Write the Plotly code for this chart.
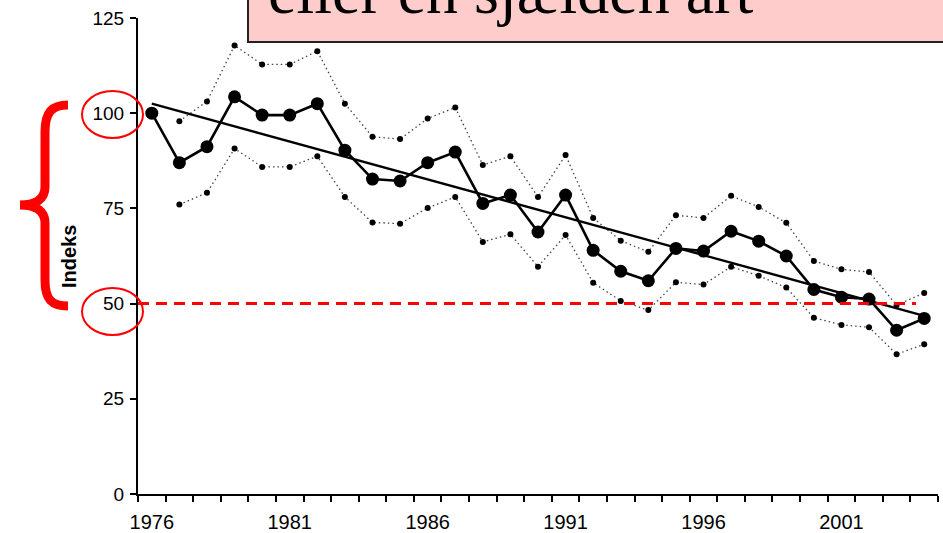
import plotly.graph_objects as go

# ---------------- data ----------------
years = list(range(1976, 2005))
index_values = [100.0, 87.0, 91.2, 104.3, 99.5, 99.5, 102.5, 90.3, 82.7, 82.2,
                87.0, 89.8, 76.3, 78.5, 68.8, 78.5, 64.0, 58.5, 56.0, 64.5,
                63.8, 69.0, 66.4, 62.5, 53.7, 51.7, 51.2, 43.0, 46.1]
ci_years = list(range(1977, 2005))
upper_ci = [97.9, 103.1, 117.8, 112.8, 112.8, 116.3, 102.5, 93.8, 93.2, 98.6,
            101.5, 86.4, 88.7, 78.0, 89.0, 72.5, 66.5, 63.6, 73.2, 72.5,
            78.3, 75.4, 71.2, 61.2, 59.0, 58.3, 49.6, 52.8]
lower_ci = [76.0, 79.1, 90.7, 85.9, 85.9, 88.7, 78.0, 71.3, 71.0, 75.1,
            78.0, 66.2, 68.2, 59.7, 68.0, 55.5, 50.7, 48.3, 55.6, 55.0,
            59.7, 57.3, 54.2, 46.3, 44.4, 43.8, 36.7, 39.3]
trend_years = [1976, 2004]
trend_values = [102.5, 46.8]
threshold = 50
threshold_end_year = 2003.7
x_tick_labels = [1976, 1981, 1986, 1991, 1996, 2001]
y_tick_labels = [0, 25, 50, 75, 100, 125]
title_text = "eller en sjælden art"
y_title = "Indeks"

# ---------------- layout helpers ----------------
W, H = 943, 533
L, R, T, B = 138, 5, 18, 39
PW, PH = W - L - R, H - T - B


def px(x):
    return (x - L) / PW


def py(y):
    return (H - B - y) / PH


def path_px(cmds):
    out = []
    for c in cmds:
        if isinstance(c, str):
            out.append(c)
        else:
            out.append(f"{px(c[0]):.5f},{py(c[1]):.5f}")
    return " ".join(out)


fig = go.Figure()

# confidence limits (dotted)
for vals in (upper_ci, lower_ci):
    fig.add_trace(go.Scatter(
        x=ci_years, y=vals, mode="lines+markers",
        line=dict(color="#444444", width=1.3, dash="1.5px,3px"),
        marker=dict(color="black", size=6),
        showlegend=False, hoverinfo="skip"))

# trend line
fig.add_trace(go.Scatter(
    x=trend_years, y=trend_values, mode="lines",
    line=dict(color="black", width=2.3), showlegend=False))

# index series
fig.add_trace(go.Scatter(
    x=years, y=index_values, mode="lines+markers",
    line=dict(color="black", width=2.6),
    marker=dict(color="black", size=13),
    showlegend=False))

# red dashed threshold line
fig.add_shape(type="line", xref="x", yref="y",
              x0=years[0] - 0.5, x1=threshold_end_year, y0=threshold, y1=threshold,
              line=dict(color="#FF0000", width=3, dash="11px,7px"))

# title box (pink, cut off at the top)
fig.add_shape(type="rect", xref="paper", yref="paper",
              x0=px(248), x1=px(990), y0=py(42), y1=py(-20),
              fillcolor="#FFCCCC", line=dict(color="#222222", width=2), layer="above")
fig.add_annotation(xref="paper", yref="paper", x=px(266), y=py(29),
                   xanchor="left", yanchor="bottom", showarrow=False,
                   text=title_text,
                   font=dict(family="Liberation Serif", size=64, color="black"))

# red ellipses around 100 and 50
for cy in (114.5, 311.5):
    fig.add_shape(type="circle", xref="paper", yref="paper",
                  x0=px(82), x1=px(143), y0=py(cy + 23.5), y1=py(cy - 23.5),
                  line=dict(color="#FF0000", width=2))

# red curly brace
brace = path_px([
    "M", (68, 105),
    "C", (52, 105), (45, 112), (45, 132),
    "L", (45, 187),
    "C", (45, 199), (36, 205), (20, 205),
    "C", (36, 205), (45, 211), (45, 223),
    "L", (45, 280),
    "C", (45, 300), (52, 306), (68, 306),
])
fig.add_shape(type="path", xref="paper", yref="paper", path=brace,
              line=dict(color="#FF0000", width=9))

# y-axis title
fig.add_annotation(xref="paper", yref="paper", x=px(69), y=py(257),
                   xanchor="center", yanchor="middle", showarrow=False,
                   textangle=-90, text="<b>" + y_title + "</b>",
                   font=dict(family="Liberation Sans", size=20, color="black"))

fig.update_layout(
    width=W, height=H,
    margin=dict(l=L, r=R, t=T, b=B, autoexpand=False),
    paper_bgcolor="white", plot_bgcolor="white",
    font=dict(family="Liberation Sans", color="black"),
    xaxis=dict(
        range=[years[0] - 0.5, years[-1] + 0.5],
        tickmode="array", tickvals=x_tick_labels,
        ticktext=[str(v) for v in x_tick_labels],
        ticks="outside", ticklen=6, tickcolor="rgba(0,0,0,0)",
        ticklabelstandoff=3, automargin=False,
        minor=dict(tick0=years[0] - 0.5, dtick=1, ticks="outside",
                   ticklen=6, tickwidth=2, tickcolor="black", showgrid=False),
        showline=True, linecolor="black", linewidth=2,
        showgrid=False, zeroline=False,
        tickfont=dict(size=20, family="Liberation Sans"),
    ),
    yaxis=dict(
        range=[0, 125], tickmode="array", tickvals=y_tick_labels,
        ticks="outside", ticklen=6, tickwidth=2, tickcolor="black",
        ticklabelstandoff=2, automargin=False,
        showline=True, linecolor="black", linewidth=2,
        showgrid=False, zeroline=False,
        tickfont=dict(size=19, family="Liberation Sans"),
    ),
)

fig.write_html("out.html",
               config={"displayModeBar": False},
               post_script="document.body.style.margin='0';"
                           "document.body.style.overflow='hidden';")
